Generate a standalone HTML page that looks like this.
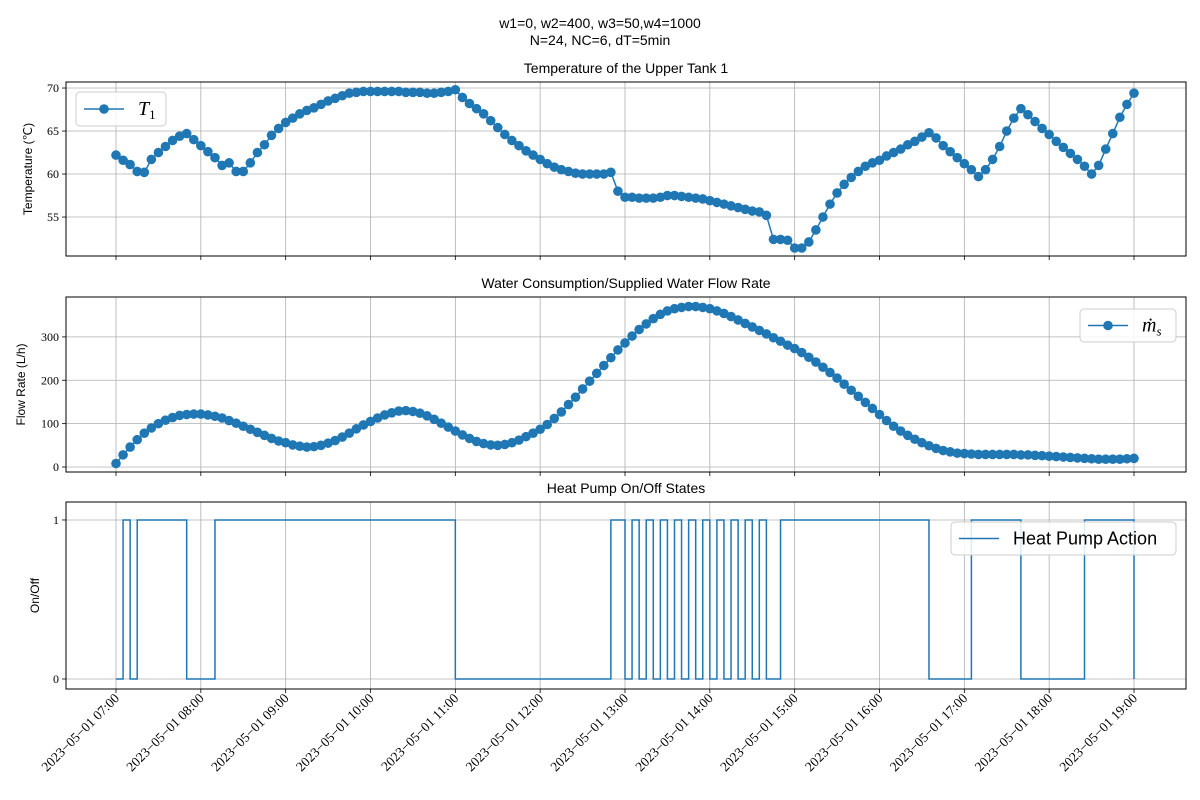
<!DOCTYPE html>
<html><head><meta charset="utf-8">
<style>
html,body{margin:0;padding:0;background:#fff;}
svg{display:block;font-family:"Liberation Sans",sans-serif;}
</style></head>
<body>
<svg id="chart" width="1200" height="800" viewBox="0 0 1200 800" xmlns="http://www.w3.org/2000/svg">
<text x="600" y="28" text-anchor="middle" font-size="14">w1=0, w2=400, w3=50,w4=1000</text>
<text x="600" y="45" text-anchor="middle" font-size="14">N=24, NC=6, dT=5min</text>
</svg>
<script>
const T1 = [62.2,61.6,61.1,60.3,60.2,61.7,62.5,63.2,63.9,64.4,64.7,64.0,
63.3,62.6,61.9,61.0,61.3,60.3,60.3,61.3,62.5,63.4,64.5,65.3,
66.0,66.5,67.0,67.4,67.7,68.1,68.5,68.8,69.1,69.4,69.5,69.6,
69.6,69.6,69.6,69.6,69.6,69.5,69.5,69.5,69.4,69.4,69.5,69.6,
69.8,68.9,68.2,67.6,67.0,66.2,65.4,64.6,63.9,63.3,62.7,62.2,
61.7,61.2,60.8,60.5,60.3,60.1,60.0,60.0,60.0,60.0,60.2,58.0,
57.3,57.3,57.2,57.2,57.2,57.3,57.5,57.5,57.4,57.3,57.2,57.1,
56.9,56.7,56.5,56.3,56.1,55.9,55.7,55.6,55.2,52.4,52.4,52.3,
51.4,51.4,52.1,53.5,55.0,56.5,57.8,58.8,59.6,60.3,60.9,61.3,
61.6,62.1,62.5,62.9,63.4,63.8,64.3,64.8,64.2,63.3,62.6,61.9,
61.2,60.5,59.7,60.5,61.7,63.2,65.0,66.5,67.6,66.9,66.1,65.3,
64.6,63.8,63.1,62.4,61.7,60.9,60.0,61.0,62.9,64.7,66.6,68.1,69.4];
const FLOW = [8,28,46,63,78,90,100,108,114,119,121,122,
122,120,117,113,107,101,94,87,80,73,66,60,
56,51,48,46,47,50,55,61,69,78,88,97,
105,113,120,125,129,130,128,124,118,110,101,92,
83,74,66,59,54,51,50,52,56,62,70,78,
87,98,112,127,144,161,180,198,216,234,252,270,
286,302,317,330,342,352,360,365,368,370,370,368,
365,360,354,347,339,331,323,315,307,298,290,281,
273,264,253,242,230,218,205,191,177,163,149,135,
121,107,94,83,73,64,56,49,43,38,35,32,
31,30,29,29,29,29,29,29,28,28,27,26,
25,24,23,22,21,20,19,18,18,18,18,19,20];
const PUMP = [0,1,0,1,1,1,1,1,1,1,0,0,0,0,
1,1,1,1,1,1,1,1,1,1,1,1,1,1,1,1,1,1,1,1,1,1,1,1,1,1,1,1,1,1,1,1,1,1,
0,0,0,0,0,0,0,0,0,0,0,0,0,0,0,0,0,0,0,0,0,0,
1,1,0,1,0,1,0,1,0,1,0,1,0,1,0,1,0,1,0,1,0,1,0,0,
1,1,1,1,1,1,1,1,1,1,1,1,1,1,1,1,1,1,1,1,1,
0,0,0,0,0,0,
1,1,1,1,1,1,1,
0,0,0,0,0,0,0,0,0,
1,1,1,1,1,1,1,0];
const HOUR_LABELS = ["07:00","08:00","09:00","10:00","11:00","12:00","13:00","14:00","15:00","16:00","17:00","18:00","19:00"];
const T_TICKS = [55,60,65,70];
const F_TICKS = [0,100,200,300];
const P_TICKS = [0,1];

const NS="http://www.w3.org/2000/svg";
const svg=document.getElementById('chart');
const C='#1f77b4';
function mk(tag,attrs,parent){const e=document.createElementNS(NS,tag);for(const k in attrs)e.setAttribute(k,attrs[k]);(parent||svg).appendChild(e);return e;}
const L=66,R=1186;
const xs=i=>116+i*(1134-116)/144;

const panels=[
 {name:'temperature',top:82,bot:256,ymin:50.47,ymax:70.7,ticks:T_TICKS,title:'Temperature of the Upper Tank 1',ylabel:'Temperature (\u2103)'},
 {name:'flow',top:297,bot:472,ymin:-11.5,ymax:392,ticks:F_TICKS,title:'Water Consumption/Supplied Water Flow Rate',ylabel:'Flow Rate (L/h)'},
 {name:'pump',top:502,bot:689,ymin:-0.063,ymax:1.113,ticks:P_TICKS,title:'Heat Pump On/Off States',ylabel:'On/Off'}
];
panels.forEach((p,pi)=>{
 const ys=v=>p.bot-(v-p.ymin)/(p.ymax-p.ymin)*(p.bot-p.top);
 const g=mk('g',{});
 
 
 HOUR_LABELS.forEach((h,k)=>{const x=xs(k*12);
  const gl=mk('line',{x1:x,x2:x,y1:p.top,y2:p.bot,stroke:'#b0b0b0','stroke-width':0.8},g);
  
  
  mk('line',{x1:x,x2:x,y1:p.bot,y2:p.bot+4,stroke:'#000','stroke-width':0.8},g);
 });
 p.ticks.forEach(t=>{const y=ys(t);
  const gl=mk('line',{x1:L,x2:R,y1:y,y2:y,stroke:'#b0b0b0','stroke-width':0.8},g);
  
  
  mk('line',{x1:L-4,x2:L,y1:y,y2:y,stroke:'#000','stroke-width':0.8},g);
  const tx=mk('text',{x:L-7,y:y+4,'text-anchor':'end','font-size':12,'font-family':'Liberation Serif, serif'},g);
  tx.textContent=t;
  
  
 });
 const tt=mk('text',{x:(L+R)/2,y:p.top-9,'text-anchor':'middle','font-size':14},g);
 tt.textContent=p.title;
 
 
 const yl=mk('text',{x:0,y:0,'text-anchor':'middle','font-size':12,transform:`translate(${pi==0?32:pi==1?25:39},${(p.top+p.bot)/2}) rotate(-90)`},g);
 yl.textContent=p.ylabel;
 
 
 let d='';
 if(pi<2){
  const arr=pi==0?T1:FLOW;
  arr.forEach((v,i)=>{d+=(i?'L':'M')+xs(i).toFixed(2)+','+ys(v).toFixed(2);});
  const ln=mk('path',{d:d,fill:'none',stroke:C,'stroke-width':1.5},g);
  
  
  arr.forEach((v,i)=>{
   const c=mk('circle',{cx:xs(i),cy:ys(v),r:4.8,fill:C},g);
   
   
  });
 } else {
  PUMP.forEach((v,i)=>{
   if(i==0)d='M'+xs(0)+','+ys(v);
   else d+='L'+xs(i).toFixed(2)+','+ys(PUMP[i-1]).toFixed(2)+'L'+xs(i).toFixed(2)+','+ys(v).toFixed(2);
  });
  const ln=mk('path',{d:d,fill:'none',stroke:C,'stroke-width':1.5},g);
  
  
 }
 const fr=mk('rect',{x:L,y:p.top,width:R-L,height:p.bot-p.top,fill:'none',stroke:'#000','stroke-width':1},g);
 
 
});
HOUR_LABELS.forEach((h,k)=>{const x=xs(k*12);
 const t=mk('text',{x:0,y:0,'text-anchor':'end','font-size':13.5,'font-family':'Liberation Serif, serif',transform:`translate(${x+4},${699}) rotate(-45)`});
 t.textContent='2023\u221205\u221201 '+h;
 
 
});
function legend(name,x,y,w,h,marker,label,fs,italic){
 const g=mk('g',{});
 
 
 mk('rect',{x:x,y:y,width:w,height:h,rx:4,fill:'#fff','fill-opacity':0.85,stroke:'#ccc'},g);
 const cy=y+h/2;
 mk('line',{x1:x+8,x2:x+48,y1:cy,y2:cy,stroke:C,'stroke-width':1.5},g);
 if(marker)mk('circle',{cx:x+28,cy:cy,r:4.8,fill:C},g);
 const t=mk('text',{x:x+62,y:cy+6,'font-size':fs,'font-family':italic?'Liberation Serif, serif':'Liberation Sans, sans-serif','font-style':italic?'italic':'normal'},g);
 t.innerHTML=label;
}
legend('temperature-legend',76,92,90,34,true,'T<tspan font-size="13" font-style="normal" dy="4">1</tspan>',20,true);
legend('flow-legend',1080,309,96,33,true,'ṁ<tspan font-size="13" dy="4">s</tspan>',20,true);
legend('pump-legend',951,522,225,33,false,'Heat Pump Action',18,false);
</script>
</body></html>
